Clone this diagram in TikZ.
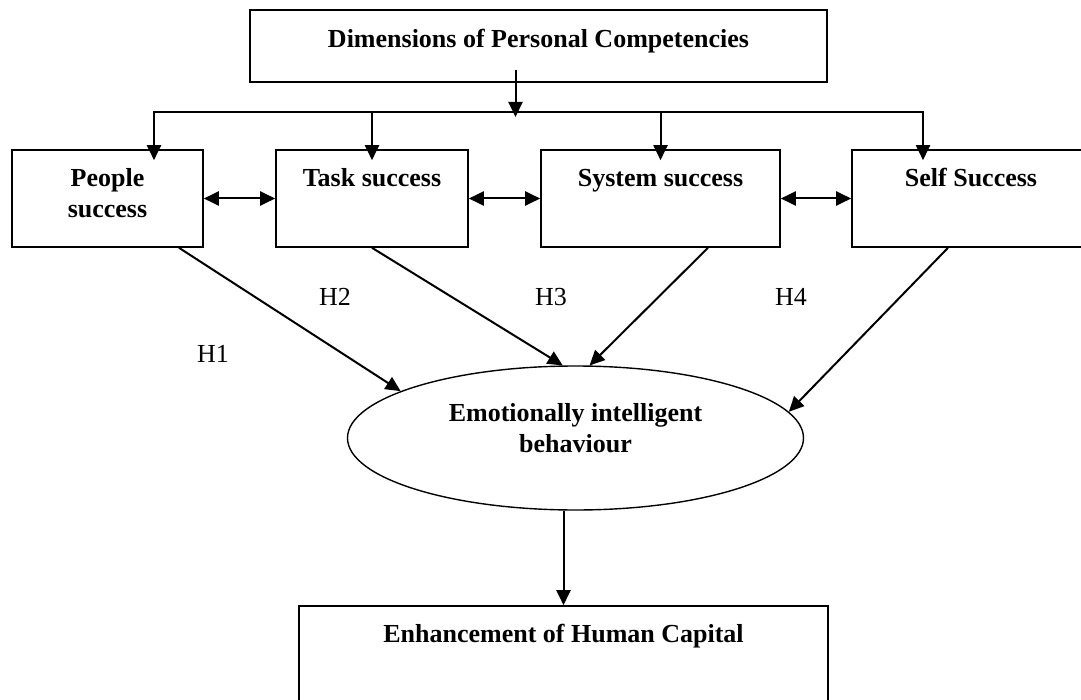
\documentclass[tikz,border=0pt]{standalone}
\usepackage{fontspec}
\setmainfont{Liberation Serif}
\usetikzlibrary{arrows.meta,shapes.geometric}

\begin{document}
\begin{tikzpicture}[x=0.5pt,y=-0.5pt,
    font=\fontsize{13}{15.5}\selectfont,
    box/.style={draw,line width=0.8pt,font=\fontsize{13}{15.5}\selectfont\bfseries,
      align=center,text height=10pt,text depth=#1},
    twolines/.style={text height=25.5pt},
    link/.style={line width=1pt},
    arr/.style={line width=1pt,-{Triangle[length=7.5pt,width=7pt]}},
    dbl/.style={line width=1pt,{Triangle[length=7.5pt,width=7pt]}-{Triangle[length=7.5pt,width=7pt]}}]
  \useasboundingbox (0,0) rectangle (1081,700);
  \node[box=8.5pt,minimum width=288.5pt,minimum height=36pt] (dim) at (538.5,46)
    {Dimensions of Personal Competencies};
  \node[box=6.5pt,twolines,minimum width=95.5pt,minimum height=48.5pt] (people) at (107.5,198.5)
    {People\\success};
  \foreach \name/\x/\w/\txt in {task/372/96/Task success,
      system/660.5/119.5/System success, self/971/119/Self Success}
    \node[box=22pt,minimum width=\w pt,minimum height=48.5pt] (\name) at (\x,198.5) {\txt};
  \node[box=11pt,twolines,ellipse,line width=0.7pt,inner sep=2pt,
    minimum width=228pt,minimum height=72pt] (emo) at (575.5,438)
    {Emotionally intelligent\\behaviour};
  \node[box=23.5pt,minimum width=264.5pt,minimum height=49.5pt] (cap) at (563.5,655.5)
    {Enhancement of Human Capital};
  \foreach \n/\x/\y in {1/213/354,2/335/297,3/551/297,4/791/297}
    \node (h\n) at (\x,\y) {H\n};

  \coordinate (split) at (515.5,112);
  \coordinate (busl) at (154,112);
  \coordinate (busr) at (923,112);
  \draw[arr] ([xshift=-11.5pt,yshift=6.5pt]dim.south) -- ([yshift=-2.5pt]split);
  \draw[link,line cap=rect] (busl) -- (busr);
  \draw[arr] (busl) -- ([yshift=-5.5pt]people.north -| busl);
  \draw[arr] (split -| task.north) -- ([yshift=-5.5pt]task.north);
  \draw[arr] (split -| system.north) -- ([yshift=-5.5pt]system.north);
  \draw[arr] (busr) -- ([yshift=-5.5pt]self.north -| busr);
  \foreach \a/\b in {people/task,task/system,system/self}
    \draw[dbl] (\a) -- (\b);

  \draw[arr] ([xshift=35.75pt]people.south) -- (emo.165);
  \draw[arr] (task.south) -- (emo.100);
  \draw[arr] ([xshift=23.75pt]system.south) -- (emo.79);
  \draw[arr] ([xshift=-11.5pt]self.south) -- (emo.7);
  \draw[arr] (emo.south -| cap.north) -- (cap.north);
\end{tikzpicture}
\end{document}
